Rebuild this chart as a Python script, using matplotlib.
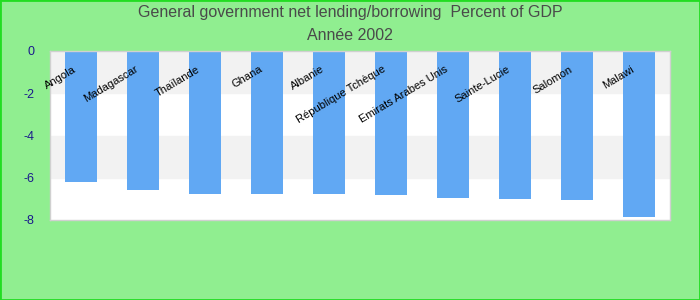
import matplotlib.pyplot as plt
from matplotlib.patches import Rectangle

countries = ['Angola', 'Madagascar', 'Thaïlande', 'Ghana', 'Albanie',
             'République Tchèque', 'Emirats Arabes Unis', 'Sainte-Lucie',
             'Salomon', 'Malawi']
values = [-6.2, -6.6, -6.78, -6.78, -6.78, -6.82, -6.95, -7.01, -7.06, -7.87]
yticks = [0, -2, -4, -6, -8]

plt.rcParams['font.family'] = ['Liberation Sans', 'DejaVu Sans']

fig = plt.figure(figsize=(7, 3), dpi=100, facecolor='#90ee90')
ax = fig.add_axes([50 / 700, 80 / 300, 620 / 700, 169 / 300])
ax.set_facecolor('white')

# alternating bands
for lo, hi in [(-2, 0), (-6, -4)]:
    ax.axhspan(lo, hi, color='#f2f2f2', zorder=0)

x = list(range(len(countries)))
ax.bar(x, values, width=0.52, color='#61a8f3', zorder=2)

for i, name in enumerate(countries):
    ax.text(i - 0.05, -0.62, name, rotation=31, ha='right', va='top',
            fontsize=8, color='black', zorder=3)

ax.set_xlim(-0.5, len(countries) - 0.5)
ax.set_ylim(-8, 0)
ax.set_xticks([])
ax.set_yticks(yticks)
ax.set_yticklabels([str(t) for t in yticks], color='#1a1a8c', fontsize=9)
ax.tick_params(axis='y', length=0, pad=11)
for s in ax.spines.values():
    s.set_color('#d0d0d0')
    s.set_linewidth(1)

fig.text(0.5, 1 - 13 / 300, 'General government net lending/borrowing  Percent of GDP',
         ha='center', va='center', fontsize=11.5, color='#4a4a4a')
fig.text(0.5, 1 - 35 / 300, 'Année 2002', ha='center', va='center',
         fontsize=11.5, color='#4a4a4a')

fig.patches.append(Rectangle((0, 0), 1, 1, transform=fig.transFigure,
                             fill=False, edgecolor='#22dd22', linewidth=2))

fig.savefig('out.png', facecolor=fig.get_facecolor())
